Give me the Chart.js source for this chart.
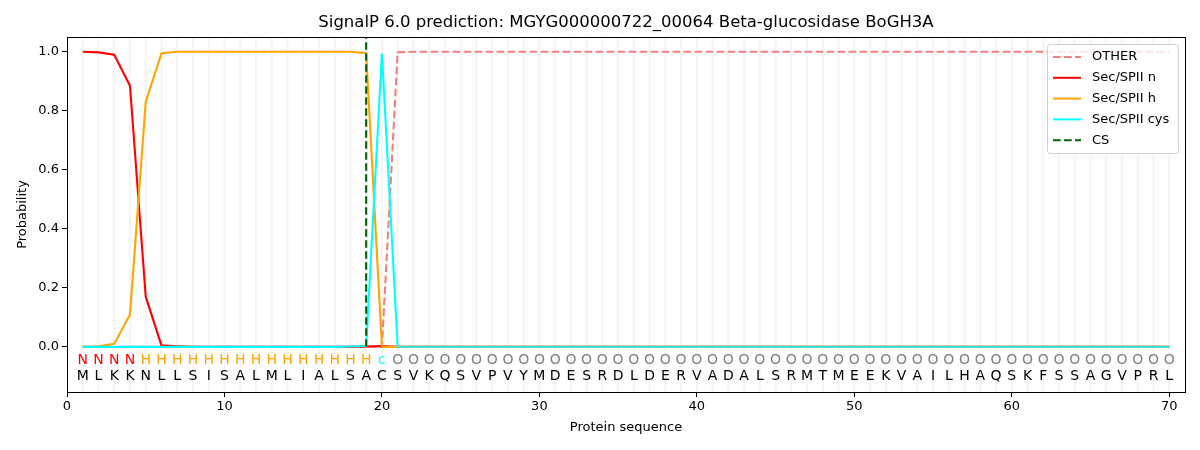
<!DOCTYPE html>
<html>
<head>
<meta charset="utf-8">
<script src="https://cdn.jsdelivr.net/npm/chart.js"></script>
<style>
  html, body { margin: 0; padding: 0; background: #fff; }
  #wrap { width: 1200px; height: 450px; }
</style>
</head>
<body>
<div id="wrap"><canvas id="sigChart" width="1200" height="450"></canvas></div>
<script>
const residues = ["M","L","K","K","N","L","L","S","I","S","A","L","M","L","I","A","L","S","A","C",
  "S","V","K","Q","S","V","P","V","Y","M","D","E","S","R","D","L","D","E","R","V",
  "A","D","A","L","S","R","M","T","M","E","E","K","V","A","I","L","H","A","Q","S",
  "K","F","S","S","A","G","V","P","R","L"];
const regions = ["N","N","N","N","H","H","H","H","H","H","H","H","H","H","H","H","H","H","H","c",
  "O","O","O","O","O","O","O","O","O","O","O","O","O","O","O","O","O","O","O","O",
  "O","O","O","O","O","O","O","O","O","O","O","O","O","O","O","O","O","O","O","O",
  "O","O","O","O","O","O","O","O","O","O"];

const otherProb = [0,0,0,0,0,0,0,0,0,0, 0,0,0,0,0,0,0,0,0,0,
  0.998,1,1,1,1,1,1,1,1,1, 1,1,1,1,1,1,1,1,1,1, 1,1,1,1,1,1,1,1,1,1,
  1,1,1,1,1,1,1,1,1,1, 1,1,1,1,1,1,1,1,1,1];
const nProb = [1,0.998,0.99,0.885,0.17,0.005,0.002,0,0,0, 0,0,0,0,0,0,0,0,0.001,0.003,
  0,0,0,0,0,0,0,0,0,0, 0,0,0,0,0,0,0,0,0,0, 0,0,0,0,0,0,0,0,0,0,
  0,0,0,0,0,0,0,0,0,0, 0,0,0,0,0,0,0,0,0,0];
const hProb = [0,0.002,0.01,0.11,0.83,0.995,1,1,1,1, 1,1,1,1,1,1,1,1,0.995,0,
  0,0,0,0,0,0,0,0,0,0, 0,0,0,0,0,0,0,0,0,0, 0,0,0,0,0,0,0,0,0,0,
  0,0,0,0,0,0,0,0,0,0, 0,0,0,0,0,0,0,0,0,0];
const cysProb = [0,0,0,0,0,0,0,0,0,0, 0,0,0,0,0,0,0,0.001,0.003,0.995,
  0,0,0,0,0,0,0,0,0,0, 0,0,0,0,0,0,0,0,0,0, 0,0,0,0,0,0,0,0,0,0,
  0,0,0,0,0,0,0,0,0,0, 0,0,0,0,0,0,0,0,0,0];
const csPos = 19;
const xTicks = [0,10,20,30,40,50,60,70];
const yTicks = [0,0.2,0.4,0.6,0.8,1.0];

const regionColors = { N: "#ff0000", H: "#ffa500", c: "#00ffff", O: "#808080" };
const FONT = "'DejaVu Sans', sans-serif";

function pts(arr) { return arr.map((v, i) => ({ x: i + 1, y: v })); }

const legendItems = [
  { label: "OTHER", color: "#f08080", dash: [7.7, 3.3] },
  { label: "Sec/SPII n", color: "#ff0000", dash: [] },
  { label: "Sec/SPII h", color: "#ffa500", dash: [] },
  { label: "Sec/SPII cys", color: "#00ffff", dash: [] },
  { label: "CS", color: "#006400", dash: [7.7, 3.3] }
];

const decor = {
  id: "decor",
  beforeDatasetsDraw(chart) {
    const { ctx, chartArea: a, scales: { x } } = chart;
    ctx.save();
    ctx.strokeStyle = "rgba(0,0,0,0.045)";
    ctx.lineWidth = 2;
    for (let i = 1; i <= residues.length; i++) {
      const px = x.getPixelForValue(i);
      ctx.beginPath(); ctx.moveTo(px, a.top); ctx.lineTo(px, a.bottom); ctx.stroke();
    }
    ctx.restore();
  },
  afterDraw(chart) {
    const { ctx, chartArea: a, scales: { x, y } } = chart;
    ctx.save();
    // letters
    ctx.font = "14px " + FONT;
    ctx.textAlign = "center";
    ctx.textBaseline = "middle";
    const yReg = y.getPixelForValue(-0.047), ySeq = y.getPixelForValue(-0.1);
    residues.forEach((r, i) => {
      const px = x.getPixelForValue(i + 1);
      ctx.fillStyle = regionColors[regions[i]];
      ctx.fillText(regions[i], px, yReg);
      ctx.fillStyle = "#000";
      ctx.fillText(r, px, ySeq);
    });
    // frame
    ctx.strokeStyle = "#000";
    ctx.lineWidth = 1;
    ctx.strokeRect(Math.round(a.left) + 0.5, Math.round(a.top) + 0.5, Math.round(a.right - a.left), Math.round(a.bottom - a.top));
    // title
    ctx.fillStyle = "#000";
    ctx.font = "16.5px " + FONT;
    ctx.textBaseline = "middle";
    ctx.fillText("SignalP 6.0 prediction: MGYG000000722_00064 Beta-glucosidase BoGH3A", (a.left + a.right) / 2, 23);
    // legend
    const lx = 1047, ly = 44, lw = 131, lh = 109;
    ctx.fillStyle = "rgba(255,255,255,0.8)";
    ctx.strokeStyle = "#d0d0d0";
    ctx.beginPath();
    ctx.roundRect(lx + 0.5, ly + 0.5, lw, lh, 3);
    ctx.fill(); ctx.stroke();
    ctx.font = "13px " + FONT;
    ctx.textAlign = "left";
    legendItems.forEach((it, i) => {
      const ry = ly + 13 + i * 20.8;
      ctx.strokeStyle = it.color;
      ctx.lineWidth = 2;
      ctx.setLineDash(it.dash);
      ctx.beginPath(); ctx.moveTo(lx + 6, ry); ctx.lineTo(lx + 34, ry); ctx.stroke();
      ctx.setLineDash([]);
      ctx.fillStyle = "#000";
      ctx.fillText(it.label, lx + 45, ry);
    });
    ctx.restore();
  }
};

new Chart(document.getElementById("sigChart"), {
  type: "line",
  data: {
    datasets: [
      { label: "OTHER", data: pts(otherProb), borderColor: "#f08080", borderDash: [7.7, 3.3], order: 5 },
      { label: "Sec/SPII n", data: pts(nProb), borderColor: "#ff0000", order: 4 },
      { label: "Sec/SPII h", data: pts(hProb), borderColor: "#ffa500", order: 3 },
      { label: "Sec/SPII cys", data: pts(cysProb), borderColor: "#00ffff", order: 2,
        segment: { borderColor: c => (c.p0.parsed.y < 0.01 && c.p1.parsed.y < 0.01 && c.p0.parsed.x > 20) ? "#40e0d0" : undefined } },
      { label: "CS", data: [{ x: csPos, y: 0 }, { x: csPos, y: 1.05 }], borderColor: "#006400", borderDash: [7.7, 3.3], order: 1 }
    ]
  },
  options: {
    responsive: false,
    animation: false,
    layout: { padding: { top: 37, right: 15, left: 0, bottom: 0 } },
    elements: {
      point: { radius: 0 },
      line: { borderWidth: 2.1, tension: 0, fill: false }
    },
    plugins: { legend: { display: false }, tooltip: { enabled: false }, title: { display: false } },
    scales: {
      x: {
        type: "linear", min: 0, max: 71,
        afterFit: s => { s.height = 58; },
        afterBuildTicks: s => { s.ticks = xTicks.map(v => ({ value: v })); },
        ticks: { font: { family: FONT, size: 13 }, color: "#000", padding: 2, maxRotation: 0 },
        grid: { drawOnChartArea: false, tickLength: 5, tickColor: "#000", color: "#000" },
        border: { color: "#000" },
        title: { display: true, text: "Protein sequence", font: { family: FONT, size: 13 }, color: "#000", padding: { top: 0, bottom: 15 } }
      },
      y: {
        type: "linear", min: -0.153, max: 1.05,
        afterFit: s => { s.width = 67; },
        afterBuildTicks: s => { s.ticks = yTicks.map(v => ({ value: v })); },
        ticks: { font: { family: FONT, size: 13 }, color: "#000", padding: 3, callback: v => v.toFixed(1) },
        grid: { drawOnChartArea: false, tickLength: 5, tickColor: "#000", color: "#000" },
        border: { color: "#000" },
        title: { display: true, text: "Probability", font: { family: FONT, size: 13 }, color: "#000", padding: { top: 15, bottom: 4 } }
      }
    }
  },
  plugins: [decor]
});
</script>
</body>
</html>
